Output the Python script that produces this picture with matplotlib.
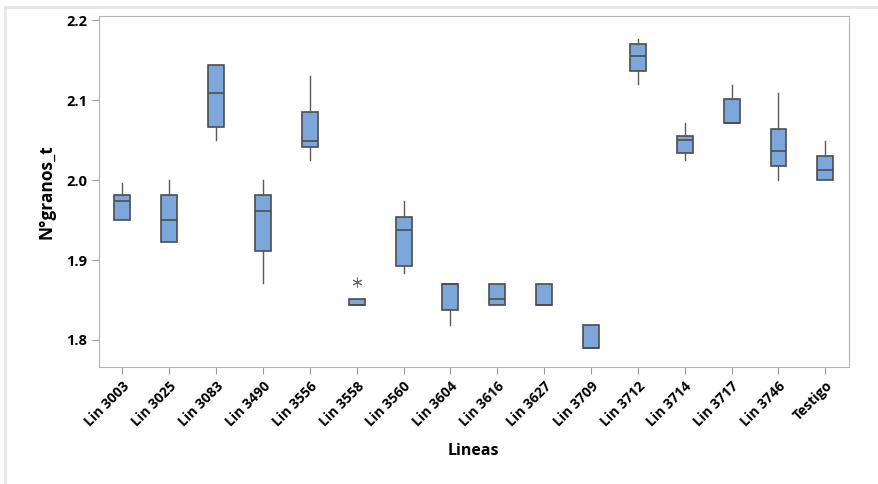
import numpy as np
import matplotlib.pyplot as plt

# Datos (N°granos_t por línea)
lineas = ['Lin 3003', 'Lin 3025', 'Lin 3083', 'Lin 3490', 'Lin 3556', 'Lin 3558',
          'Lin 3560', 'Lin 3604', 'Lin 3616', 'Lin 3627', 'Lin 3709', 'Lin 3712',
          'Lin 3714', 'Lin 3717', 'Lin 3746', 'Testigo']
q1 = [1.950, 1.923, 2.067, 1.911, 2.042, 1.844, 1.893, 1.837, 1.844, 1.844,
      1.790, 2.137, 2.034, 2.072, 2.018, 2.000]
mediana = [1.974, 1.950, 2.109, 1.962, 2.049, 1.844, 1.937, 1.870, 1.851, 1.844,
           1.790, 2.155, 2.050, 2.072, 2.037, 2.013]
q3 = [1.981, 1.981, 2.144, 1.981, 2.086, 1.851, 1.954, 1.870, 1.870, 1.870,
      1.818, 2.171, 2.055, 2.102, 2.064, 2.030]
bigote_inf = [1.950, 1.923, 2.050, 1.871, 2.025, 1.844, 1.884, 1.818, 1.844, 1.844,
              1.790, 2.120, 2.025, 2.072, 2.000, 2.000]
bigote_sup = [1.997, 2.000, 2.144, 2.000, 2.130, 1.851, 1.974, 1.870, 1.870, 1.870,
              1.818, 2.177, 2.072, 2.119, 2.109, 2.049]
atipicos = [[], [], [], [], [], [1.872], [], [], [], [], [], [], [], [], [], []]

stats = []
for i, nombre in enumerate(lineas):
    stats.append({'label': nombre, 'q1': q1[i], 'med': mediana[i], 'q3': q3[i],
                  'whislo': bigote_inf[i], 'whishi': bigote_sup[i],
                  'fliers': atipicos[i]})

plt.rcParams['font.family'] = ['Open Sans', 'DejaVu Sans']

fig = plt.figure(figsize=(8.79, 4.84), dpi=100)
ax = fig.add_axes([0.1126, 0.2417, 0.853, 0.7259])

gris = '#4d4d4d'
ax.bxp(stats, widths=0.34, patch_artist=True, showcaps=False,
       boxprops=dict(facecolor='#7BA7DB', edgecolor=gris, linewidth=1.2),
       medianprops=dict(color=gris, linewidth=1.2),
       whiskerprops=dict(color='#5a5a5a', linewidth=1.0),
       flierprops=dict(marker=(6, 2, 0), markersize=7, markeredgecolor='#666666',
                       markeredgewidth=0.7, linestyle='none'))

ax.set_ylim(1.766, 2.206)
ax.set_yticks([1.8, 1.9, 2.0, 2.1, 2.2])
ax.set_yticklabels(['1.8', '1.9', '2.0', '2.1', '2.2'], fontsize=10.5, fontweight='bold')
ax.set_xticklabels(lineas, rotation=45, ha='right', rotation_mode='anchor',
                   fontsize=10, fontweight='bold')
ax.set_xlabel('Lineas', fontsize=11.5, fontweight='bold', labelpad=10)
ax.set_ylabel('N°granos_t', fontsize=12.5, fontweight='bold', labelpad=8)

for lado in ax.spines.values():
    lado.set_color('#b4b4b4')
ax.tick_params(axis='both', colors='#9a9a9a', labelcolor='black', length=5)

# Marco claro de la ventana
fig.add_artist(plt.Line2D([5 / 879, 1], [1 - 7 / 484, 1 - 7 / 484], color='#e6e6e6', linewidth=2))
fig.add_artist(plt.Line2D([5 / 879, 5 / 879], [0, 1 - 7 / 484], color='#e6e6e6', linewidth=2))

fig.savefig('out.png', dpi=100)
